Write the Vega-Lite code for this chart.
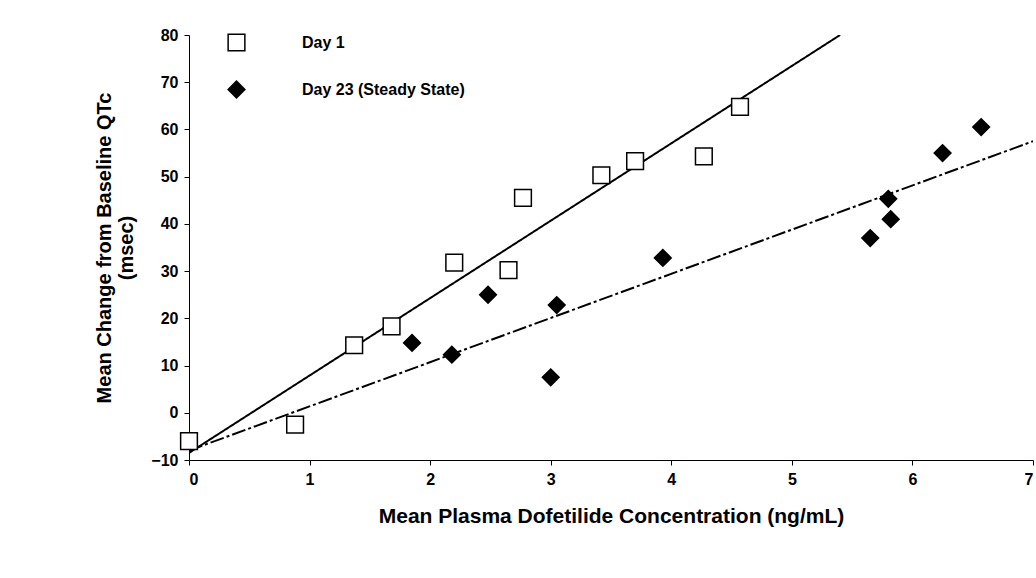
{
  "$schema": "https://vega.github.io/schema/vega-lite/v6.json",
  "width": 844,
  "height": 425,
  "autosize": {"type": "none"},
  "padding": {"left": 189, "top": 35, "right": 3, "bottom": 118},
  "background": "white",
  "config": {
    "view": {"stroke": null},
    "font": "Liberation Sans",
    "axis": {"grid": false, "domainColor": "black", "tickColor": "black", "labelColor": "black", "titleColor": "black", "labelFontWeight": "bold", "labelFontSize": 16, "titleFontWeight": "bold"},
    "legend": {"title": null, "orient": "none", "legendX": 38, "legendY": -2, "padding": 0, "labelFontSize": 16, "labelFontWeight": "bold", "labelColor": "black", "labelLimit": 400, "symbolSize": 280, "rowPadding": 24, "labelOffset": 56, "symbolStrokeWidth": 1.5}
  },
  "datasets": {
    "points": [
      {"conc": 0.0, "qtc": -6, "day": "Day 1"},
      {"conc": 0.88, "qtc": -2.5, "day": "Day 1"},
      {"conc": 1.37, "qtc": 14.3, "day": "Day 1"},
      {"conc": 1.68, "qtc": 18.3, "day": "Day 1"},
      {"conc": 2.2, "qtc": 31.8, "day": "Day 1"},
      {"conc": 2.65, "qtc": 30.2, "day": "Day 1"},
      {"conc": 2.77, "qtc": 45.5, "day": "Day 1"},
      {"conc": 3.42, "qtc": 50.3, "day": "Day 1"},
      {"conc": 3.7, "qtc": 53.3, "day": "Day 1"},
      {"conc": 4.27, "qtc": 54.3, "day": "Day 1"},
      {"conc": 4.57, "qtc": 64.8, "day": "Day 1"},
      {"conc": 1.85, "qtc": 14.8, "day": "Day 23 (Steady State)"},
      {"conc": 2.18, "qtc": 12.3, "day": "Day 23 (Steady State)"},
      {"conc": 2.48, "qtc": 25, "day": "Day 23 (Steady State)"},
      {"conc": 3.0, "qtc": 7.5, "day": "Day 23 (Steady State)"},
      {"conc": 3.05, "qtc": 22.8, "day": "Day 23 (Steady State)"},
      {"conc": 3.93, "qtc": 32.8, "day": "Day 23 (Steady State)"},
      {"conc": 5.65, "qtc": 37, "day": "Day 23 (Steady State)"},
      {"conc": 5.8, "qtc": 45.3, "day": "Day 23 (Steady State)"},
      {"conc": 5.82, "qtc": 41, "day": "Day 23 (Steady State)"},
      {"conc": 6.25, "qtc": 55, "day": "Day 23 (Steady State)"},
      {"conc": 6.57, "qtc": 60.5, "day": "Day 23 (Steady State)"}
    ],
    "fits": [
      {"conc": 0, "qtc": -8.5, "fit": "Day 1 fit"},
      {"conc": 5.4, "qtc": 80, "fit": "Day 1 fit"},
      {"conc": 0, "qtc": -8, "fit": "Day 23 fit"},
      {"conc": 7, "qtc": 57.5, "fit": "Day 23 fit"}
    ]
  },
  "layer": [
    {
      "data": {"name": "fits"},
      "mark": {"type": "line", "color": "black", "strokeWidth": 2, "clip": true},
      "encoding": {
        "x": {"field": "conc", "type": "quantitative", "scale": {"domain": [0, 7]}},
        "y": {"field": "qtc", "type": "quantitative", "scale": {"domain": [-10, 80]}},
        "strokeDash": {"field": "fit", "type": "nominal", "legend": null, "scale": {"domain": ["Day 1 fit", "Day 23 fit"], "range": [[1, 0], [14, 3, 3, 3]]}}
      }
    },
    {
      "data": {"name": "points"},
      "mark": {"type": "point", "filled": true, "strokeWidth": 1.5, "size": 280, "opacity": 1},
      "encoding": {
        "x": {"field": "conc", "type": "quantitative", "scale": {"domain": [0, 7]},
          "axis": {"title": "Mean Plasma Dofetilide Concentration (ng/mL)", "titleFontSize": 21, "titlePadding": 18, "tickCount": 7, "labelPadding": 6}},
        "y": {"field": "qtc", "type": "quantitative", "scale": {"domain": [-10, 80]},
          "axis": {"title": ["Mean Change from Baseline QTc", "(msec)"], "titleFontSize": 20, "titlePadding": 14, "values": [-10, 0, 10, 20, 30, 40, 50, 60, 70, 80], "labelPadding": 6}},
        "shape": {"field": "day", "type": "nominal", "title": null, "scale": {"domain": ["Day 1", "Day 23 (Steady State)"], "range": ["square", "diamond"]}},
        "fill": {"field": "day", "type": "nominal", "title": null, "scale": {"domain": ["Day 1", "Day 23 (Steady State)"], "range": ["white", "black"]}},
        "stroke": {"field": "day", "type": "nominal", "title": null, "scale": {"domain": ["Day 1", "Day 23 (Steady State)"], "range": ["black", "black"]}}
      }
    }
  ]
}
